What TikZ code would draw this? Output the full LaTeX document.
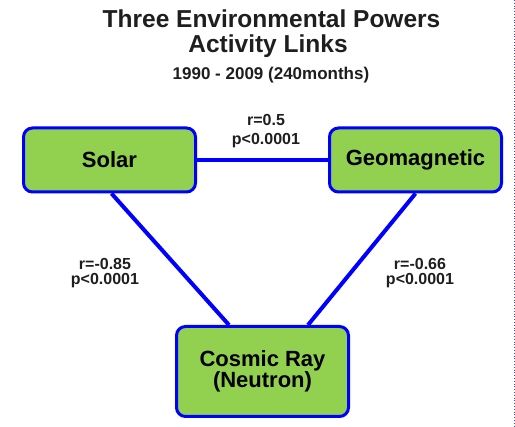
\documentclass[tikz,border=0pt]{standalone}
\usepackage{fontspec}
\setmainfont{Liberation Sans}
\usetikzlibrary{calc,backgrounds}
\definecolor{boxgreen}{HTML}{92D050}
\definecolor{linkblue}{HTML}{0000FF}
\definecolor{titlegray}{HTML}{1E1E1E}
\tikzset{
  powerbox/.style={draw=linkblue, line width=3pt, fill=boxgreen, rounded corners=9pt,
    minimum width=172pt, align=center, inner sep=0pt,
    font=\fontsize{22}{21}\selectfont\bfseries},
  link/.style={draw=linkblue, line width=4pt},
  stat/.style={align=center, inner sep=0pt, text=titlegray},
  ttl/.style={anchor=base, inner sep=0pt, text=titlegray}
}
\begin{document}
\begin{tikzpicture}[x=1pt,y=-1pt]
\useasboundingbox (0,0) rectangle (515,427);
\node[ttl, font=\fontsize{24.5}{26}\selectfont\bfseries] (t1) at (271.5,28) {Three Environmental Powers};
\node[ttl, font=\fontsize{24.5}{26}\selectfont\bfseries] (t2) at (268,53) {Activity Links};
\node[ttl, font=\fontsize{17}{20}\selectfont\bfseries] (t3) at (271,80) {1990 - 2009 (240months)};

\node[powerbox, minimum height=64pt] (solar) at (109.5,160) {Solar};
\node[powerbox, minimum height=64pt] (geo) at (415.5,160) {Geomagnetic};
\node[powerbox, minimum height=90pt] (cosmic) at (262.5,371.5) {Cosmic Ray\\(Neutron)};

\begin{pgfonlayer}{background}
\draw[link] (solar.east) -- (geo.west);
\draw[link] ($(solar.south)+(2,0)$) -- ($(cosmic.north west)+(54,0)$);
\draw[link] (geo.south) -- ($(cosmic.north east)+(-42,0)$);
\end{pgfonlayer}

\node[stat, font=\fontsize{16}{19}\selectfont\bfseries] (s1) at (266,131) {r=0.5\\p<0.0001};
\node[stat, font=\fontsize{16}{14.5}\selectfont\bfseries] (s2) at (105,273) {r=-0.85\\p<0.0001};
\node[stat, font=\fontsize{16}{14.5}\selectfont\bfseries] (s3) at (420,273) {r=-0.66\\p<0.0001};

\coordinate (et) at (514,0);
\coordinate (eb) at (514,427);
\draw[blue!45!gray, dotted, line width=0.8pt] (et) -- (eb);
\end{tikzpicture}
\end{document}
